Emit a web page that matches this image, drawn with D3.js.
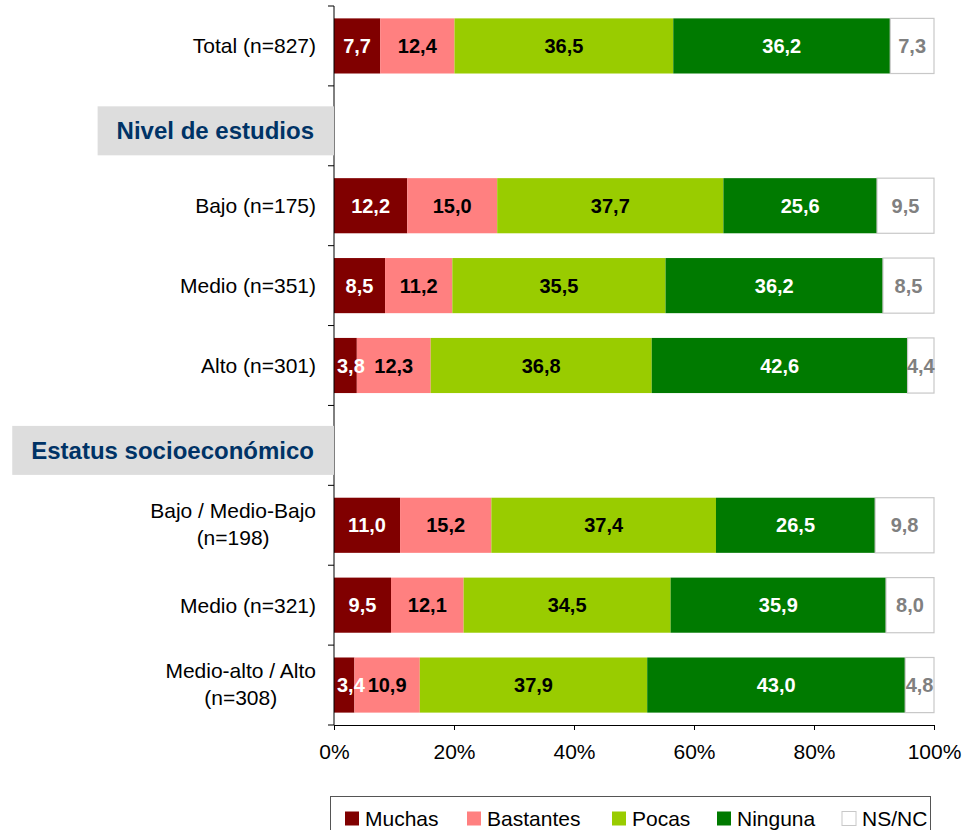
<!DOCTYPE html>
<html>
<head>
<meta charset="utf-8">
<script src="https://cdn.jsdelivr.net/npm/d3@7"></script>
<style>
  html, body { margin: 0; padding: 0; background: #fff; }
  svg { display: block; font-family: "Liberation Sans", Arial, sans-serif; }
</style>
</head>
<body>
<div id="chart"></div>
<script>
// rows, top to bottom; header rows carry no values
const categories = [
  'Total (n=827)',
  'Nivel de estudios',
  'Bajo (n=175)',
  'Medio (n=351)',
  'Alto (n=301)',
  'Estatus socioeconómico',
  'Bajo / Medio-Bajo\n(n=198)',
  'Medio (n=321)',
  'Medio-alto / Alto\n(n=308)'
]
const headerRows = ['Nivel de estudios', 'Estatus socioeconómico']

const seriesNames = ['Muchas', 'Bastantes', 'Pocas', 'Ninguna', 'NS/NC']
const muchas    = [7.7, null, 12.2, 8.5, 3.8, null, 11.0, 9.5, 3.4]
const bastantes = [12.4, null, 15.0, 11.2, 12.3, null, 15.2, 12.1, 10.9]
const pocas     = [36.5, null, 37.7, 35.5, 36.8, null, 37.4, 34.5, 37.9]
const ninguna   = [36.2, null, 25.6, 36.2, 42.6, null, 26.5, 35.9, 43.0]
const nsnc      = [7.3, null, 9.5, 8.5, 4.4, null, 9.8, 8.0, 4.8]

const xTicks = [0, 20, 40, 60, 80, 100]

const colors = ['#800000', '#ff8080', '#99cc00', '#007a00', '#ffffff']
const labelColors = ['#ffffff', '#000000', '#000000', '#ffffff', '#808080']

const width = 974
const height = 830
const margin = { top: 6, right: 40, bottom: 105, left: 334 }

const svg = d3.select('#chart')
  .append('svg')
  .attr('width', width)
  .attr('height', height)

const x = d3.scaleLinear()
  .domain([0, 100])
  .range([margin.left, width - margin.right])

const y = d3.scaleBand()
  .domain(categories.map((_, i) => `${i}`))
  .range([margin.top, height - margin.bottom])
  .paddingInner(0.31)
  .paddingOuter(0.155)

const series = [muchas, bastantes, pocas, ninguna, nsnc]

// build stacked rows (normalised to 100%)
const rows = categories.map((cat, i) => {
  if (headerRows.includes(cat)) return null
  const vals = series.map(s => s[i])
  const total = d3.sum(vals)
  let acc = 0
  return vals.map((v, k) => {
    const x0 = acc / total * 100
    acc += v
    return { row: i, key: k, value: v, x0, x1: acc / total * 100 }
  })
}).filter(r => r)

const bars = svg.append('g').attr('class', 'bars')
const segs = rows.flat()

bars.selectAll('rect')
  .data(segs)
  .join('rect')
  .attr('x', d => x(d.x0))
  .attr('y', d => y(`${d.row}`))
  .attr('width', d => x(d.x1) - x(d.x0))
  .attr('height', y.bandwidth())
  .attr('fill', d => colors[d.key])
  .attr('stroke', d => d.key === 4 ? '#c8c8c8' : 'none')
  .attr('stroke-width', 1.2)

const valueLabels = bars.selectAll('text')
  .data(segs)
  .join('text')
  .attr('y', d => y(`${d.row}`) + y.bandwidth() / 2)
  .attr('dy', '0.36em')
  .attr('text-anchor', 'middle')
  .attr('font-size', 20)
  .attr('font-weight', 'bold')
  .attr('fill', d => labelColors[d.key])
  .text(d => d3.format('.1f')(d.value).replace('.', ','))

// keep labels inside the plot on the left edge
valueLabels.attr('x', function (d) {
  const half = this.getComputedTextLength() / 2
  const cx = (x(d.x0) + x(d.x1)) / 2
  return Math.max(cx, x(0) + half + 3)
})

// axes
const axisColor = '#000'
const plotBottom = height - margin.bottom

const yAxis = svg.append('g')
yAxis.append('line')
  .attr('x1', x(0)).attr('x2', x(0))
  .attr('y1', margin.top).attr('y2', plotBottom)
  .attr('stroke', axisColor)
yAxis.selectAll('line.tick')
  .data(d3.range(categories.length + 1))
  .join('line')
  .attr('class', 'tick')
  .attr('x1', x(0) - 6).attr('x2', x(0))
  .attr('y1', i => margin.top + i * y.step())
  .attr('y2', i => margin.top + i * y.step())
  .attr('stroke', axisColor)

const xAxis = svg.append('g')
  .attr('transform', `translate(0,${plotBottom})`)
  .call(d3.axisBottom(x)
    .tickValues(xTicks)
    .tickFormat(d => `${d}%`)
    .tickSizeInner(5)
    .tickSizeOuter(0)
    .tickPadding(14))
xAxis.select('.domain').attr('stroke', axisColor)
xAxis.selectAll('.tick line').attr('stroke', axisColor)
xAxis.selectAll('.tick text')
  .attr('font-family', '"Liberation Sans", Arial, sans-serif')
  .attr('font-size', 21)
  .attr('fill', '#000')

// category labels
const labelRight = 316
const catLabels = svg.append('g')
categories.forEach((cat, i) => {
  if (headerRows.includes(cat)) return
  const cy = y(`${i}`) + y.bandwidth() / 2
  const lines = cat.split('\n')
  const t = catLabels.append('text')
    .attr('font-size', 21)
    .attr('fill', '#000')
  if (lines.length === 1) {
    t.attr('x', labelRight).attr('y', cy).attr('dy', '0.35em')
      .attr('text-anchor', 'end').text(cat)
  } else {
    const spans = lines.map((l, k) => t.append('tspan')
      .attr('y', cy - 7 + k * 27)
      .text(l))
    const maxW = d3.max(spans, s => s.node().getComputedTextLength())
    t.attr('text-anchor', 'middle')
    spans.forEach(s => s.attr('x', labelRight - maxW / 2))
  }
})

// section header boxes
headerRows.forEach(h => {
  const i = categories.indexOf(h)
  const cy = y(`${i}`) + y.bandwidth() / 2 + 5
  const g = svg.append('g')
  const rect = g.append('rect').attr('fill', '#dddddd')
  const t = g.append('text')
    .attr('x', 314)
    .attr('y', cy)
    .attr('dy', '0.36em')
    .attr('text-anchor', 'end')
    .attr('font-size', 24)
    .attr('font-weight', 'bold')
    .attr('fill', '#003366')
    .text(h)
  const w = t.node().getComputedTextLength()
  const left = 314 - w - 19
  rect.attr('x', left)
    .attr('y', cy - 24.5)
    .attr('width', x(0) - left)
    .attr('height', 49)
})

// legend
const legend = svg.append('g')
legend.append('rect')
  .attr('x', 330.5).attr('y', 796.5)
  .attr('width', 600).attr('height', 50)
  .attr('fill', '#fff')
  .attr('stroke', '#555')
const legendX = [345, 467, 612, 717, 842]
seriesNames.forEach((name, k) => {
  legend.append('rect')
    .attr('x', legendX[k]).attr('y', 811.5)
    .attr('width', 14).attr('height', 14)
    .attr('fill', colors[k])
    .attr('stroke', k === 4 ? '#c8c8c8' : 'none')
  legend.append('text')
    .attr('x', legendX[k] + 20)
    .attr('y', 818.5)
    .attr('dy', '0.36em')
    .attr('font-size', 21)
    .attr('fill', '#000')
    .text(name)
})
</script>
</body>
</html>
